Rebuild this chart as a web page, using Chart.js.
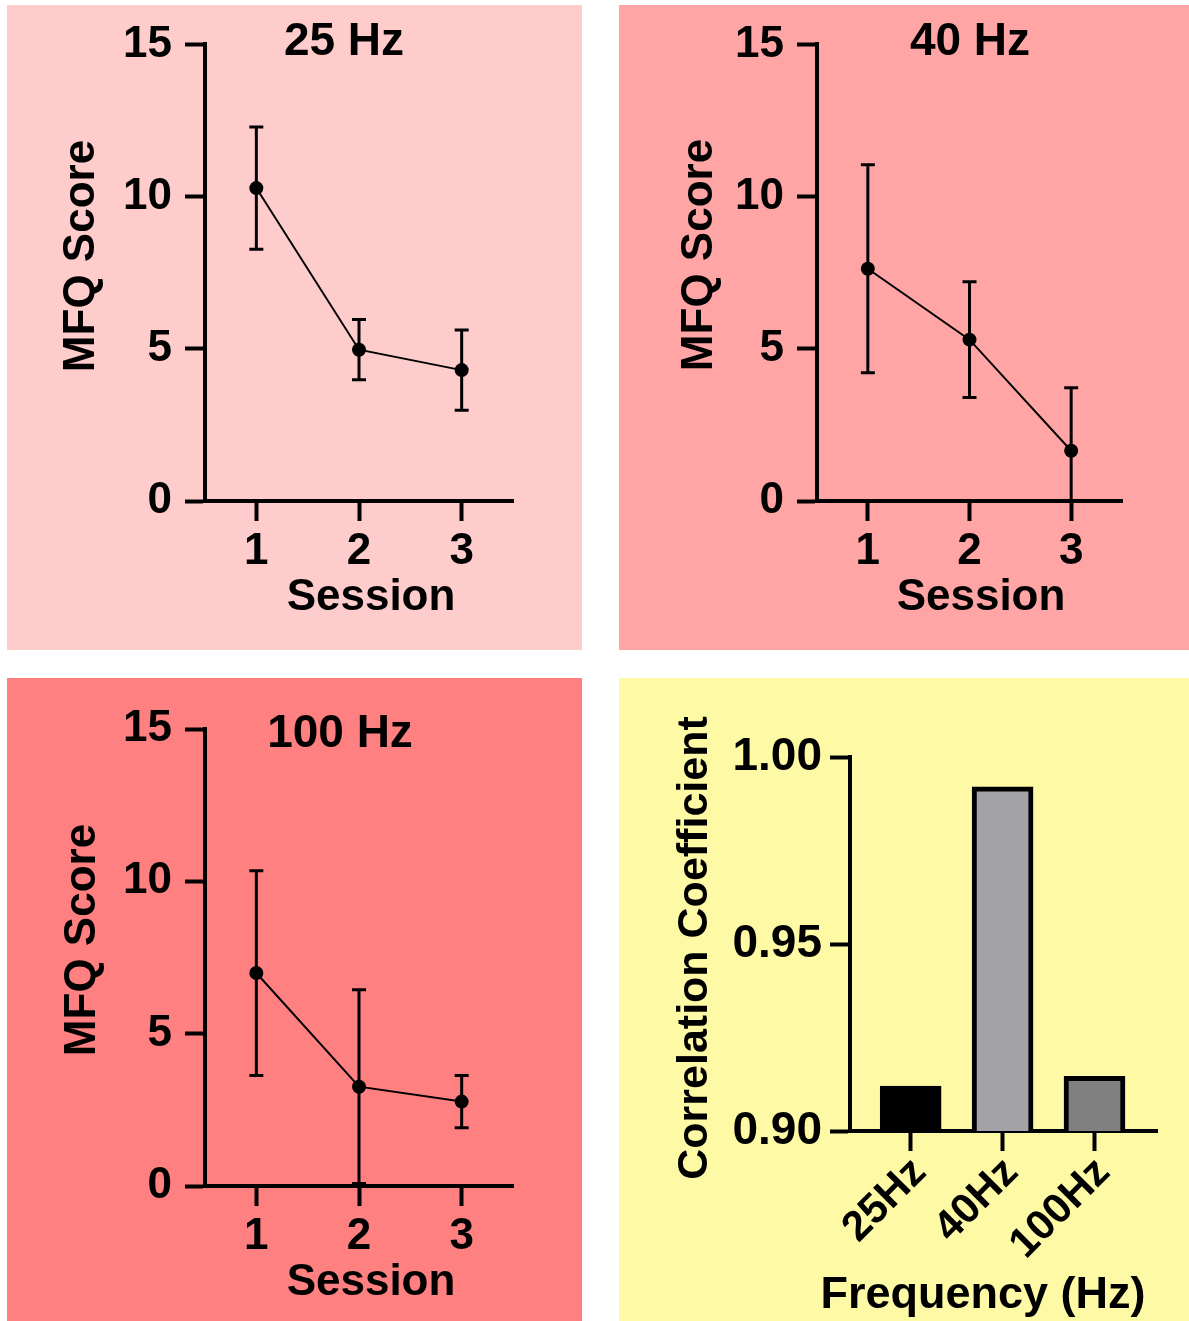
<!DOCTYPE html>
<html>
<head>
<meta charset="utf-8">
<script src="https://cdn.jsdelivr.net/npm/chart.js@4.4.1/dist/chart.umd.min.js"></script>
<style>
  body { margin: 0; background: #fff; }
  .panel { position: absolute; }
  .panel canvas { display: block; }
</style>
</head>
<body>
<div class="panel" style="left:7px;top:5px;background:#ffcccc"><canvas id="hz25" width="575" height="645"></canvas></div>
<div class="panel" style="left:619px;top:5px;background:#ffa5a5"><canvas id="hz40" width="570" height="645"></canvas></div>
<div class="panel" style="left:7px;top:678px;background:#ff8080"><canvas id="hz100" width="575" height="643"></canvas></div>
<div class="panel" style="left:619px;top:678px;background:#fdf9a5"><canvas id="corr" width="570" height="643"></canvas></div>
<script>
// MFQ score per session (mean and error)
const sessions = [1, 2, 3];
const mean25 = [10.28, 4.97, 4.30];
const err25 = [2.01, 0.99, 1.32];
const mean40 = [7.63, 5.30, 1.65];
const err40 = [3.42, 1.90, 2.07];
const mean100 = [6.99, 3.26, 2.77];
const err100 = [3.36, 3.18, 0.86];

// correlation coefficient per frequency
const freqLabels = ['25Hz', '40Hz', '100Hz'];
const corrValues = [0.912, 0.992, 0.9146];
const barColors = ['#000000', '#a3a2a7', '#808080'];

Chart.defaults.font.family = '"Liberation Sans", Arial, sans-serif';
Chart.defaults.font.size = 44;
Chart.defaults.font.weight = 'bold';
Chart.defaults.color = '#000';
Chart.defaults.animation = false;
Chart.defaults.responsive = false;
Chart.defaults.plugins.legend.display = false;
Chart.defaults.plugins.tooltip.enabled = false;

const axisGrid = { drawOnChartArea: false, tickLength: 20, tickWidth: 4, tickColor: '#000', offset: false };
const axisBorder = { color: '#000', width: 4 };

// vertical error bars with caps, drawn under the points
const errorBars = {
  id: 'errorBars',
  beforeDatasetsDraw(chart) {
    const { ctx, chartArea: a, scales: { x, y } } = chart;
    ctx.save();
    ctx.beginPath();
    ctx.rect(a.left, a.top - 10, a.right - a.left, a.bottom - a.top + 10);
    ctx.clip();
    ctx.strokeStyle = '#000';
    ctx.lineWidth = 3;
    chart.data.datasets.forEach(ds => {
      if (!ds.errors) return;
      ds.data.forEach((p, i) => {
        const px = x.getPixelForValue(p.x);
        const hi = y.getPixelForValue(p.y + ds.errors[i]);
        const lo = y.getPixelForValue(p.y - ds.errors[i]);
        ctx.beginPath();
        ctx.moveTo(px, hi); ctx.lineTo(px, lo);
        ctx.moveTo(px - 7, hi); ctx.lineTo(px + 7, hi);
        ctx.moveTo(px - 7, lo); ctx.lineTo(px + 7, lo);
        ctx.stroke();
      });
    });
    ctx.restore();
  }
};

// panel titles and axis titles
const panelText = {
  id: 'panelText',
  afterDraw(chart, args, opts) {
    const ctx = chart.ctx;
    ctx.save();
    ctx.fillStyle = '#000';
    ctx.textAlign = 'center';
    ctx.textBaseline = 'middle';
    (opts.items || []).forEach(t => {
      ctx.save();
      ctx.font = 'bold ' + (t.size || 44) + 'px "Liberation Sans", Arial, sans-serif';
      ctx.translate(t.x, t.y);
      if (t.rotate) ctx.rotate(-Math.PI / 2);
      ctx.fillText(t.text, 0, 0);
      ctx.restore();
    });
    ctx.restore();
  }
};

function sessionChart(id, means, errs, box, texts) {
  return new Chart(document.getElementById(id), {
    type: 'line',
    data: {
      datasets: [{
        data: sessions.map((s, i) => ({ x: s, y: means[i] })),
        errors: errs,
        borderColor: '#000',
        borderWidth: 2,
        pointRadius: 7,
        pointBackgroundColor: '#000',
        pointBorderWidth: 0
      }]
    },
    options: {
      layout: { padding: { top: box.top, right: box.right, left: 0, bottom: 0 } },
      scales: {
        x: {
          type: 'linear', min: 0.5, max: 3.5,
          afterBuildTicks: s => { s.ticks = sessions.map(v => ({ value: v })); },
          afterFit: s => { s.height = box.xh; },
          ticks: { padding: 4 },
          grid: axisGrid, border: axisBorder
        },
        y: {
          min: 0, max: 15,
          ticks: { stepSize: 5, padding: 13 },
          afterFit: s => { s.width = box.yw; },
          grid: axisGrid, border: axisBorder
        }
      },
      plugins: { panelText: { items: texts } }
    },
    plugins: [errorBars, panelText]
  });
}

sessionChart('hz25', mean25, err25, { top: 39, right: 69, xh: 149, yw: 198 }, [
  { text: '25 Hz', x: 337, y: 37, size: 46 },
  { text: 'MFQ Score', x: 75, y: 251, rotate: true },
  { text: 'Session', x: 364, y: 593 }
]);

sessionChart('hz40', mean40, err40, { top: 39, right: 67, xh: 149, yw: 198 }, [
  { text: '40 Hz', x: 351, y: 37, size: 46 },
  { text: 'MFQ Score', x: 81, y: 250, rotate: true },
  { text: 'Session', x: 362, y: 593 }
]);

sessionChart('hz100', mean100, err100, { top: 51, right: 69, xh: 135, yw: 198 }, [
  { text: '100 Hz', x: 333, y: 56, size: 46 },
  { text: 'MFQ Score', x: 76, y: 262, rotate: true },
  { text: 'Session', x: 364, y: 605 }
]);

new Chart(document.getElementById('corr'), {
  type: 'bar',
  data: {
    datasets: [{
      data: freqLabels.map((f, i) => ({ x: i, y: corrValues[i] })),
      backgroundColor: barColors,
      borderColor: '#000',
      borderWidth: 5,
      barThickness: 61
    }]
  },
  options: {
    layout: { padding: { top: 79, right: 32, left: 0, bottom: 0 } },
    scales: {
      x: {
        type: 'linear', min: -0.66, max: 2.68, offset: false,
        afterBuildTicks: s => { s.ticks = freqLabels.map((f, i) => ({ value: i })); },
        afterFit: s => { s.height = 190; },
        ticks: {
          callback: v => freqLabels[v],
          minRotation: 45, maxRotation: 45, autoSkip: false, padding: -3, labelOffset: 9,
          font: { size: 42 }
        },
        grid: axisGrid, border: axisBorder
      },
      y: {
        min: 0.9, max: 1.0,
        ticks: { stepSize: 0.05, padding: 8, callback: v => v.toFixed(2), font: { size: 46 } },
        afterFit: s => { s.width = 231; },
        grid: axisGrid, border: axisBorder
      },
      yMinor: {
        position: 'left', min: 0.9, max: 1.0,
        ticks: { stepSize: 0.005, display: false },
        afterFit: s => { s.width = 0; },
        grid: { drawOnChartArea: false, tickLength: 11, tickWidth: 3, tickColor: '#000' },
        border: { display: false }
      }
    },
    plugins: {
      panelText: {
        items: [
          { text: 'Correlation Coefficient', x: 76, y: 270, rotate: true, size: 43 },
          { text: 'Frequency (Hz)', x: 364, y: 618, size: 45 }
        ]
      }
    }
  },
  plugins: [panelText]
});
</script>
</body>
</html>
